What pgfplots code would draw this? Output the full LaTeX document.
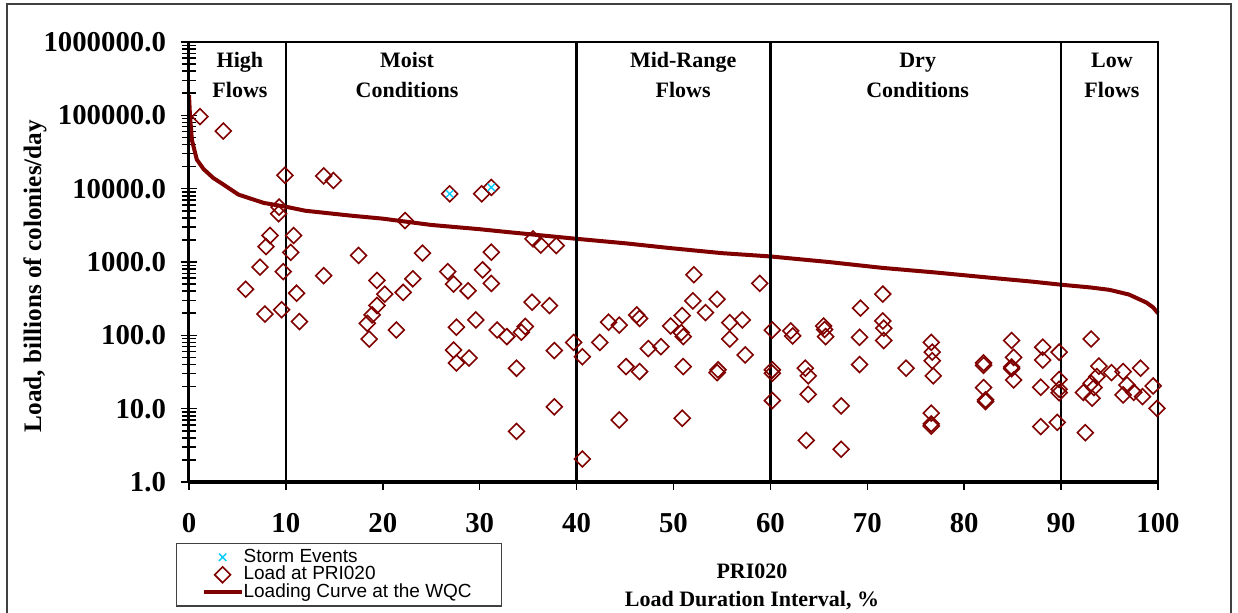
\documentclass[border=0pt]{standalone}
\usepackage{fontspec}
\setmainfont{Liberation Serif}
\newfontfamily\arialfont{Liberation Sans}
\usepackage{pgfplots}
\pgfplotsset{compat=1.18}
\definecolor{curveRed}{RGB}{128,0,0}
\definecolor{stormCyan}{RGB}{0,204,255}
\definecolor{frameGray}{RGB}{64,64,64}
\pgfplotsset{
  markimg/.style={legend image code/.code={\path[draw=none,fill=none] (0pt,0pt) rectangle (22.5pt,0.1pt); \draw[##1] plot coordinates {(13pt,0pt)};}},
  lineimg/.style={legend image code/.code={\path[draw=none,fill=none] (0pt,0pt) rectangle (22.5pt,0.1pt); \draw[##1] (3.5pt,0pt) -- (22.5pt,0pt);}},
}

\begin{document}
\begin{tikzpicture}
% 1 px of the reference = 0.5pt; plot corner (189,482) px sits at (0,0)
\useasboundingbox (-94.5pt,-65.5pt) rectangle (524.5pt,241pt);
\draw[frameGray,line width=1pt] (-90.75pt,-65.5pt) -- (-90.75pt,238.75pt) -- (520.75pt,238.75pt) -- (520.75pt,-65.5pt);

\begin{axis}[
  at={(0pt,0pt)}, anchor=south west,
  scale only axis, width=484.5pt, height=220pt,
  xmin=0, xmax=100,
  ymode=log, ymin=1, ymax=1000000,
  clip=false,
  axis line style={line width=1pt},
  xtick={0,10,20,30,40,50,60,70,80,90,100},
  xticklabels={0,10,20,30,40,50,60,70,80,90,100},
  ytick={1,10,100,1000,10000,100000,1000000},
  yticklabels={1.0,10.0,100.0,1000.0,10000.0,100000.0,1000000.0},
  xtick pos=bottom, ytick pos=left,
  tick align=center,
  major tick length=8pt, minor tick length=7pt,
  tick style={black, line width=0.8pt},
  xtick style={/pgfplots/tick align=outside, /pgfplots/major tick length=4pt},
  ticklabel style={font=\fontsize{14.4}{16}\selectfont\bfseries},
  yticklabel style={xshift=-4pt},
  xticklabel style={yshift=-8pt},
  xlabel={PRI020\\Load Duration Interval, \%},
  xlabel style={font=\fontsize{11}{14}\selectfont\bfseries, align=center,
    at={(axis description cs:0.581,-0.170)}, anchor=north},
  ylabel={Load, billions of colonies/day},
  ylabel style={font=\fontsize{12.6}{15}\selectfont\bfseries,
    at={(axis description cs:-0.159,0.468)}, anchor=center},
  legend style={at={(axis description cs:-0.0134,-0.1386)}, anchor=north west,
    draw=frameGray, line width=0.6pt, font=\arialfont\fontsize{9.5}{10}\selectfont,
    inner xsep=10pt, inner ysep=2.5pt, row sep=0pt,
    nodes={inner sep=0pt, text height=6.8pt, text depth=1.95pt}},
  legend cell align=left,
]

% loading curve
\addplot[curveRed, line width=2pt, forget plot] coordinates {
  (0,190000) (0.1,100000) (0.3,46000) (0.8,25000) (1.5,18500) (2.5,14000)
  (3.5,11500) (5.1,8300) (7.7,6400) (10.2,5600) (12,5000) (16.6,4300)
  (20,3900) (25,3200) (30,2800) (33,2550) (40,2070) (45,1800) (49.6,1550)
  (55,1320) (60,1190) (66,1000) (71.6,830) (77,720) (82.7,610) (87,540)
  (90,490) (93,450) (95,417) (97,360) (98.8,280) (99.5,240) (100,200)
};

% load at PRI020
\addplot[only marks, mark=square, mark size=2.8pt,
  mark options={rotate=45, curveRed, line width=0.8pt, fill=none}, forget plot] coordinates {
  (1.14,96000) (3.54,61000) (9.9,15200) (13.9,14900) (14.9,12900) (9.3,5600)
  (9.25,4550) (8.36,2300) (10.8,2300) (7.95,1620) (10.5,1350) (7.33,850)
  (9.73,740) (13.9,650) (5.85,425) (11.1,375) (7.84,195) (9.56,223) (11.4,154)
  (26.9,8500) (30.2,8500) (31.2,10400) (22.3,3670) (17.5,1230) (24.1,1320)
  (31.2,1360) (26.7,740) (30.3,780) (19.4,560) (23.1,590) (27.3,500) (31.2,510)
  (28.8,405) (20.2,365) (22.1,385) (19.4,255) (18.9,190) (18.4,146) (18.6,89)
  (21.4,118) (27.6,129) (29.6,162) (31.8,118) (32.8,96) (27.3,63) (27.6,42)
  (28.9,49)
  (35.5,2070) (36.3,1700) (37.9,1670) (35.4,283) (37.2,254) (34.7,132)
  (34.3,110) (37.7,62) (33.8,35.6) (37.7,10.6) (33.8,4.9) (39.7,80) (40.6,51)
  (40.6,2.06) (42.4,80) (43.3,151) (44.4,138) (46.2,190) (46.5,170) (45.1,37.5)
  (46.5,32) (44.4,7.0) (47.4,66) (48.7,70) (49.7,134)
  (52.1,670) (58.9,510) (52.0,295) (54.5,310) (53.3,204) (50.9,186) (50.8,109)
  (51.0,96) (55.8,149) (57.1,162) (55.8,89) (57.4,54) (51.0,37.5) (54.6,33.8)
  (54.5,31) (50.9,7.4) (60.2,118) (60.2,33.8) (60.2,30.4) (60.2,12.9)
  (62.1,115) (62.3,98) (63.6,35.6) (63.9,28) (63.9,15.7) (63.7,3.7)
  (65.5,134) (65.7,96) (65.6,120)
  (71.6,365) (69.3,235) (71.6,157) (71.7,125) (71.7,85) (69.2,94) (69.2,40)
  (74.0,35.6) (67.3,10.9) (67.3,2.8) (76.6,80) (76.7,59) (76.7,45) (76.8,28)
  (76.6,8.7) (76.6,6.2) (76.6,5.8) (82.0,42) (82.0,39) (82.0,19.4)
  (82.2,13.2) (82.2,12.5)
  (84.9,85) (85.1,50) (84.9,37) (84.9,35) (85.1,24.6) (88.1,69) (88.1,46)
  (87.9,19.6) (87.9,5.7) (89.8,59) (89.8,25) (89.8,18.4) (89.8,16.5) (89.6,6.5)
  (93.1,89) (93.9,38) (93.7,27.4) (93.1,22.2) (93.4,19.4) (92.3,16.6)
  (93.2,13.9) (92.5,4.7) (95.2,31) (96.4,32) (98.2,35.6) (96.8,21) (96.4,15.4)
  (97.5,16.7) (98.4,14.6) (99.5,20.4) (99.9,10.1)
};

% storm events
\addplot[only marks, mark=x, mark size=2.6pt, mark options={stormCyan, line width=0.7pt},
  forget plot] coordinates {(26.9,8500) (31.2,10400)};

\addlegendimage{only marks, mark=x, mark size=2.6pt, mark options={stormCyan, line width=0.7pt}, markimg}
\addlegendentry{Storm Events}
\addlegendimage{only marks, mark=square, mark size=2.8pt, mark options={rotate=45, curveRed, line width=0.8pt}, markimg}
\addlegendentry{Load at PRI020}
\addlegendimage{curveRed, line width=2pt, lineimg}
\addlegendentry{Loading Curve at the WQC\hspace*{5pt}}

% flow regime dividers and heavier frame sides
\draw[line width=1.3pt] (axis cs:10,1) -- (axis cs:10,1000000);
\draw[line width=1.3pt] (axis cs:40,1) -- (axis cs:40,1000000);
\draw[line width=1.3pt] (axis cs:60,1) -- (axis cs:60,1000000);
\draw[line width=1.3pt] (axis cs:90,1) -- (axis cs:90,1000000);
\draw[line width=1.4pt] (axis cs:100,1) -- (axis cs:100,1000000);
\draw[line width=1.5pt] (rel axis cs:0,0) -- (rel axis cs:0,1);
\draw[line width=2pt] (rel axis cs:0,0) -- (rel axis cs:1,0);

\begin{scope}[every node/.style={align=center, font=\fontsize{11}{15}\selectfont\bfseries}]
\node at (rel axis cs:0.0526,0.925) {High\\Flows};
\node at (rel axis cs:0.225,0.925) {Moist\\Conditions};
\node at (rel axis cs:0.510,0.925) {Mid-Range\\Flows};
\node at (rel axis cs:0.752,0.925) {Dry\\Conditions};
\node at (rel axis cs:0.9525,0.925) {Low\\Flows};
\end{scope}
\end{axis}
\end{tikzpicture}
\end{document}
